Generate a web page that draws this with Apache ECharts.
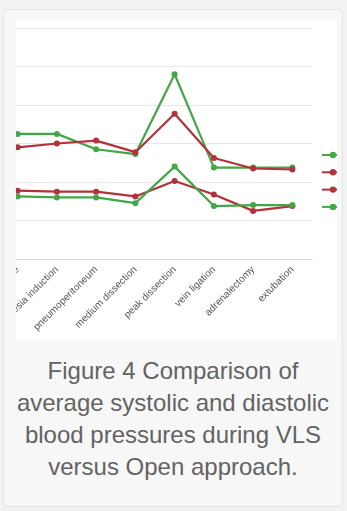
<!DOCTYPE html>
<html>
<head>
<meta charset="utf-8">
<script src="https://cdn.jsdelivr.net/npm/echarts@6/dist/echarts.min.js"></script>
<style>
  html, body { margin: 0; padding: 0; background: #f3f3f3; width: 347px; height: 511px; overflow: hidden; }
  .card { position: absolute; left: 3px; top: 9px; width: 338px; height: 496px; background: #f7f7f7; border: 1px solid #e4e4e4; border-radius: 4px; }
  .pic { position: absolute; left: 16px; top: 19px; width: 321px; height: 322px; background: #fff; overflow: hidden; }
  #chart { position: absolute; left: -60px; top: 0; width: 450px; height: 322px; }
  .caption { position: absolute; left: 3px; top: 355px; width: 340px; text-align: center; font-family: "Liberation Sans", Arial, sans-serif; font-size: 24px; line-height: 32px; color: #636363; }
</style>
</head>
<body>
<div class="card"></div>
<div class="pic"><div id="chart"></div></div>
<div class="caption">Figure 4 Comparison of<br>average systolic and diastolic<br>blood pressures during VLS<br>versus Open approach.</div>
<script>
var stages = ['baseline', 'anesthesia induction', 'pneumoperitoneum', 'medium dissection', 'peak dissection', 'vein ligation', 'adrenalectomy', 'extubation'];
var vlsSystolic = [130, 130, 114, 109, 192, 95, 95, 95];
var openSystolic = [116, 120, 123, 111, 151, 105, 94, 93];
var openDiastolic = [71, 70, 70, 65, 81, 67, 50, 55];
var vlsDiastolic = [65, 64, 64, 58, 96, 55, 56, 56];

var green = '#43a647';
var red = '#b1323a';

function mkSeries(name, data, color) {
    return {
        name: name,
        type: 'line',
        data: data,
        symbol: 'circle',
        symbolSize: 6,
        lineStyle: { width: 2.2, color: color },
        itemStyle: { color: color },
        animation: false
    };
}

var option = {
    animation: false,
    grid: { left: 42, right: 94, top: 9, bottom: 82 },
    legend: {
        orient: 'vertical',
        left: 360,
        top: 127,
        itemWidth: 22,
        itemHeight: 8,
        itemGap: 9.3,
        textStyle: { fontSize: 8, color: '#595959' },
        data: ['VLS systolic', 'Open systolic', 'Open diastolic', 'VLS diastolic']
    },
    xAxis: {
        type: 'category',
        data: stages,
        boundaryGap: true,
        axisTick: { show: false },
        axisLine: { lineStyle: { color: '#d9d9d9' } },
        axisLabel: { rotate: 45, fontSize: 10, color: '#555', margin: 9, interval: 0 }
    },
    yAxis: {
        type: 'value',
        min: 0,
        max: 240,
        interval: 40,
        axisLabel: { show: false },
        splitLine: { lineStyle: { color: '#e8e8e8' } }
    },
    series: [
        mkSeries('VLS systolic', vlsSystolic, green),
        mkSeries('Open systolic', openSystolic, red),
        mkSeries('Open diastolic', openDiastolic, red),
        mkSeries('VLS diastolic', vlsDiastolic, green)
    ]
};

var myChart = echarts.init(document.getElementById('chart'));
myChart.setOption(option);
</script>
</body>
</html>
